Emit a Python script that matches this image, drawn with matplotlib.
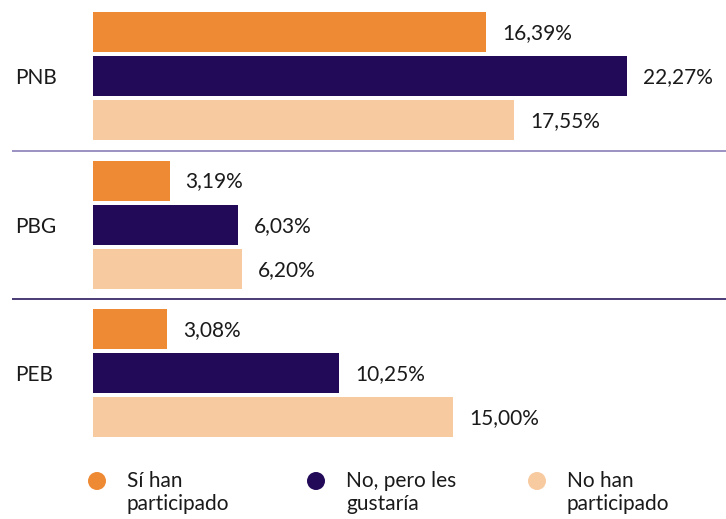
import matplotlib
matplotlib.use("Agg")
import matplotlib.pyplot as plt
from matplotlib.patches import Ellipse

categories = ["PNB", "PBG", "PEB"]
series_names = ["Sí han\nparticipado", "No, pero les\ngustaría", "No han\nparticipado"]
si_han = [16.39, 3.19, 3.08]
no_pero = [22.27, 6.03, 10.25]
no_han = [17.55, 6.20, 15.00]
colors = ["#EF8A34", "#230A59", "#F8CAA0"]

series = [si_han, no_pero, no_han]

W, H = 726, 519
fig = plt.figure(figsize=(W / 100, H / 100), dpi=100)
ax = fig.add_axes([0, 0, 1, 1])
s = 24.0  # px per percent
x0 = 93
ax.set_xlim(-x0 / s, (W - x0) / s)
ax.set_ylim(H, 0)
ax.axis("off")

font = "Lato"
fs = 15
group_pitch = 148.5
bar_pitch = 44.2
top = 32

for g, cat in enumerate(categories):
    for k, vals in enumerate(series):
        yc = top + g * group_pitch + k * bar_pitch
        v = vals[g]
        ax.barh(yc, v, height=40, left=0, color=colors[k])
        ax.text(v + 16 / s, yc + 1, f"{v:.2f}%".replace(".", ","), va="center",
                ha="left", fontsize=fs, family=font, color="#1a1a1a")
    ax.text(-78 / s, top + g * group_pitch + bar_pitch + 2, cat, va="center",
            ha="left", fontsize=fs, family=font, color="#1a1a1a")

sep_colors = ["#8B7FB9", "#2A1A5E"]
for g in range(len(categories) - 1):
    ysep = top + g * group_pitch + 2 * bar_pitch + 20 + 10.5
    ax.plot([-81 / s, (W - x0) / s], [ysep, ysep], color=sep_colors[g], lw=1.2,
            solid_capstyle="butt")

legend_x = [97, 316, 537]
for i, name in enumerate(series_names):
    cx = (legend_x[i] - x0) / s
    ax.add_patch(Ellipse((cx, 481), 18 / s, 18, color=colors[i], lw=0))
    ax.text(cx + 30 / s, 471, name, va="top", ha="left", fontsize=fs,
            family=font, color="#1a1a1a", linespacing=1.2)

fig.savefig("out.png", dpi=100)
